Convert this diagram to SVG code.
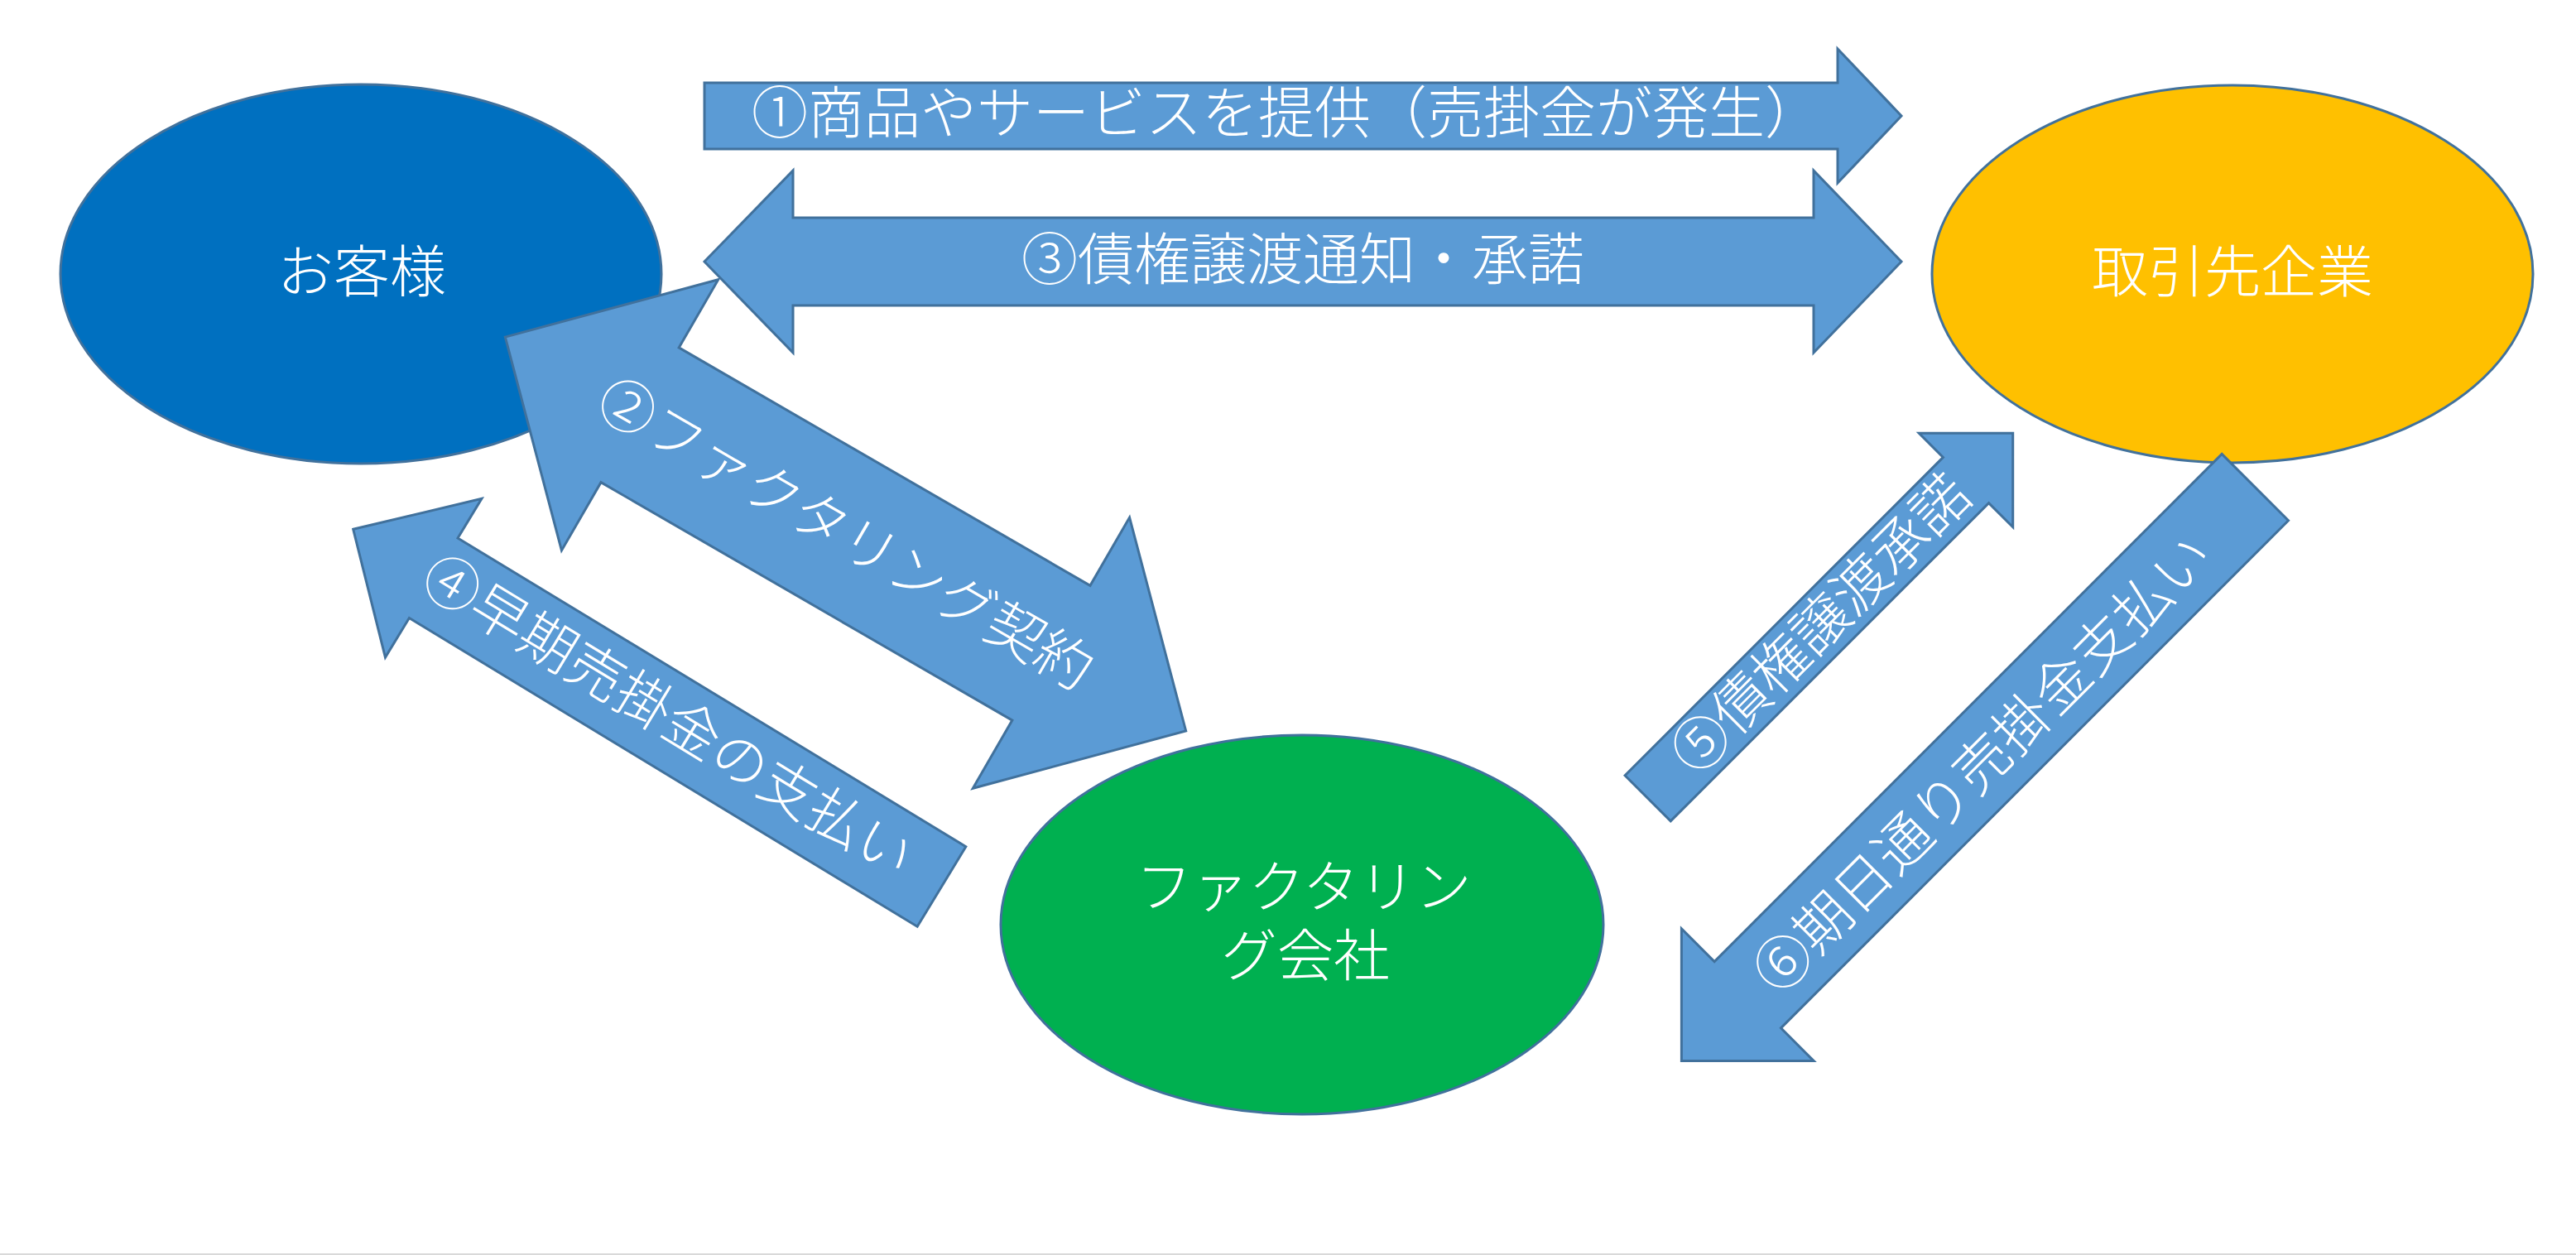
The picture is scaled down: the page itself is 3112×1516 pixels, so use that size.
<svg xmlns="http://www.w3.org/2000/svg" width="3112" height="1516" viewBox="0 0 3112 1516">
  <style>
    .node { stroke: #41719C; stroke-width: 3; }
    .arrow { fill: #5B9BD5; stroke: #41719C; stroke-width: 3; stroke-linejoin: miter; }
    .lbl { fill: #FFFFFF; font-family: 'Noto Sans CJK JP', 'Noto Sans', sans-serif; font-size: 68px; font-weight: 300; text-anchor: middle; }
  </style>
  <rect x="0" y="0" width="3112" height="1516" fill="#FFFFFF"/>

  <g id="node-customer">
    <ellipse class="node" cx="436" cy="331" rx="363" ry="229" fill="#0070C0"/>
    <text class="lbl" x="437" y="353">お客様</text>
  </g>
  <g id="node-partner">
    <ellipse class="node" cx="2697" cy="331" rx="363" ry="228" fill="#FFC000"/>
    <text class="lbl" x="2697" y="353">取引先企業</text>
  </g>
  <g id="node-factoring">
    <ellipse class="node" cx="1573" cy="1117" rx="364" ry="229" fill="#00B050"/>
    <text class="lbl" x="1575" y="1096">ファクタリン</text>
    <text class="lbl" x="1577" y="1179">グ会社</text>
  </g>

  <g id="connectors">
    <g id="arrow1">
      <polygon class="arrow" points="851,100 2220,100 2220,59 2297,140 2220,221 2220,180 851,180"/>
      <text class="lbl" x="1554" y="161">①商品やサービスを提供（売掛金が発生）</text>
    </g>
    <g id="arrow3">
      <polygon class="arrow" points="851,316 958,206 958,263 2191,263 2191,206 2297,316 2191,426 2191,369 958,369 958,426"/>
      <text class="lbl" x="1574" y="338">③債権譲渡通知・承諾</text>
    </g>
    <g id="arrow2">
      <polygon class="arrow" transform="translate(1021.5,645) rotate(30.05)" points="-475,0 -287,-189 -287,-94 287,-94 287,-189 475,0 287,189 287,94 -287,94 -287,189"/>
      <text class="lbl" transform="translate(1022.5,643.3) rotate(30.05)" x="0" y="26">②ファクタリング契約</text>
    </g>
    <g id="arrow4">
      <polygon class="arrow" transform="translate(426.7,639.3) rotate(31.27)" points="0,0 113.5,-112.2 113.5,-56.5 831.6,-56.5 831.6,56.5 113.5,56.5 113.5,112.2"/>
      <text class="lbl" transform="translate(808.3,863.4) rotate(31.27)" x="0" y="26">④早期売掛金の支払い</text>
    </g>
    <g id="arrow5">
      <polygon class="arrow" transform="translate(2431.7,523.3) rotate(135)" points="0,0 80.2,-80.2 80.2,-39 623.7,-39 623.7,39 80.2,39 80.2,80.2"/>
      <text class="lbl" transform="translate(2198.4,752.4) rotate(-45)" x="0" y="26">⑤債権譲渡承諾</text>
    </g>
    <g id="arrow6">
      <polygon class="arrow" transform="translate(2031.4,1281.6) rotate(-45)" points="0,0 113,-113 113,-56.8 980,-56.8 980,56.8 113,56.8 113,113"/>
      <text class="lbl" transform="translate(2394,921) rotate(-45)" x="0" y="26">⑥期日通り売掛金支払い</text>
    </g>
  </g>

  <rect x="0" y="1514" width="3112" height="2" fill="#D9D9D9"/>
</svg>
